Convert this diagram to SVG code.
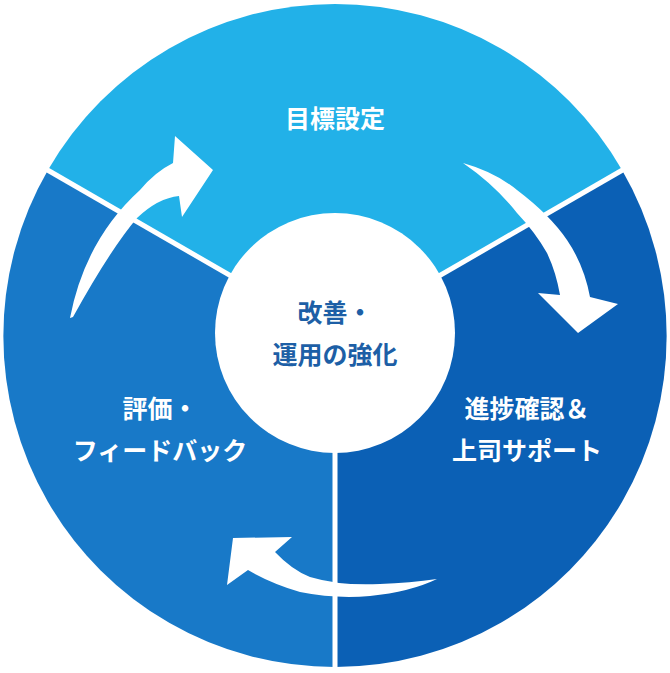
<svg xmlns="http://www.w3.org/2000/svg" width="670" height="673" viewBox="0 0 670 673">
<style>
.w{fill:#fff}
.t{font-family:"Noto Sans CJK JP","Noto Sans",sans-serif;font-weight:bold;font-size:25px;text-anchor:middle;fill:#fff}
.c{fill:#1d5fa6}
</style>
<rect width="670" height="673" fill="#fff"/>
<g id="segments">
<path id="seg-top" d="M335,336 L48,170 A331,331 0 0 1 622,170 Z" fill="#22b1e8"/>
<path id="seg-right" d="M335,336 L622,170 A331,331 0 0 1 335,667 Z" fill="#0b60b5"/>
<path id="seg-left" d="M335,336 L335,667 A331,331 0 0 1 48,170 Z" fill="#1879c8"/>
</g>
<g id="connectors" stroke="#fff" stroke-width="5">
<line x1="335" y1="336" x2="44" y2="168"/>
<line x1="335" y1="336" x2="626" y2="168"/>
<line x1="335" y1="336" x2="335" y2="670"/>
</g>
<g id="arrows" class="w">
<path d="M70,318 Q85,240 140,190 Q155,172 173,163 L175,136 L213,170 L182,217 L179,196 Q158,198 137,218 Q110,250 73,317 Z"/>
<path d="M463,163 Q495,172 517,190 Q550,215 567,240 Q584,265 590,297 L618,304 L578,333 L538,293 L560,295 Q556,272 547,253 Q535,232 517,213 Q495,185 463,163 Z"/>
<path d="M437,579 Q410,592 370,596 Q335,599 300,592 Q270,583 248,570 L227,585 L233,538 L292,537 L275,552 Q292,570 310,577 Q340,586 380,584 Q410,583 437,579 Z"/>
</g>
<g id="center">
<circle cx="335" cy="333" r="120" fill="#fff"/>
<text class="t c" x="335" y="322">改善・</text>
<text class="t c" x="335" y="364">運用の強化</text>
</g>
<g id="goal"><text class="t" x="335" y="128">目標設定</text></g>
<g id="eval"><text class="t" x="160" y="418">評価・</text><text class="t" x="160" y="460">フィードバック</text></g>
<g id="progress"><text class="t" x="527" y="418">進捗確認＆</text><text class="t" x="527" y="460">上司サポート</text></g>
</svg>
